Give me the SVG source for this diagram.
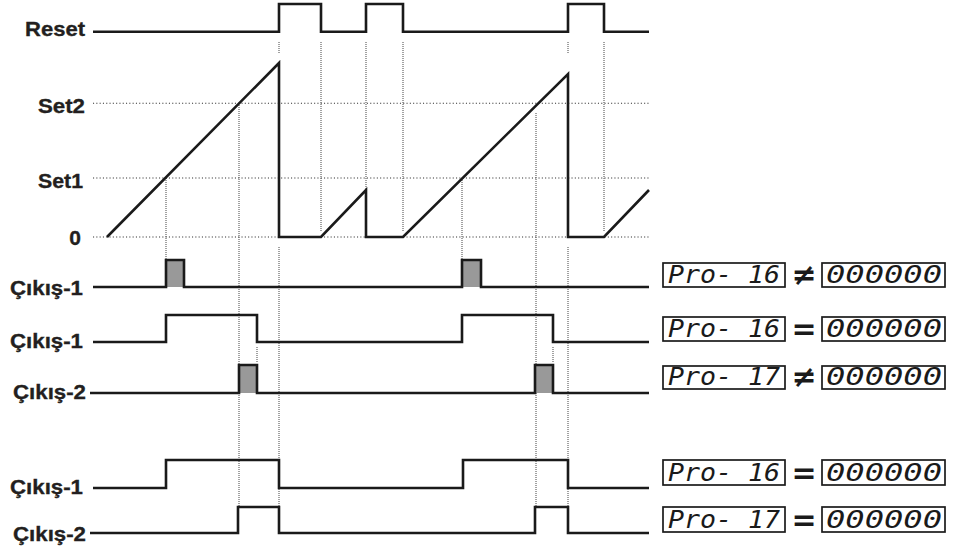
<svg xmlns="http://www.w3.org/2000/svg" width="958" height="553" viewBox="0 0 958 553">
<style>
.bg{fill:#ffffff}
.lbl{font-family:"Liberation Sans",Arial,sans-serif;font-weight:bold;font-size:21px;fill:#231f20;stroke:#231f20;stroke-width:0.35;text-anchor:end}
.sig{fill:none;stroke:#1a1a1a;stroke-width:2.6;stroke-linejoin:miter;stroke-linecap:butt}
.hd{fill:none;stroke:#333;stroke-width:1.1;stroke-dasharray:1.1 2.2}
.vd{fill:none;stroke:#444;stroke-width:1;stroke-dasharray:1 1}
.pulse{fill:#999999;stroke:none}
.box{fill:#ffffff;stroke:#1a1a1a;stroke-width:1.7}
.seg{font-family:"DejaVu Sans Mono","Liberation Mono",monospace;font-style:oblique;font-size:24px;fill:#1a1a1a}
.op{font-family:"DejaVu Sans",sans-serif;font-weight:bold;font-size:30px;fill:#1a1a1a;text-anchor:middle}
</style>
<rect class="bg" x="0" y="0" width="958" height="553"/>

<g id="grid">
<path class="hd" d="M93,103.3 H649 M93,178 H649 M93,237 H649"/>
<path class="vd" d="M166,178 V260 M239,105 V507 M279,42 V53 M279,247 V507 M321,42 V232 M366,42 V190 M403,42 V232 M257,347 V362 M462,178 V260 M536,113 V507 M553,347 V362 M568,42 V53 M568,247 V507 M604,42 V232"/>
</g>

<g id="labels">
<text class="lbl" x="85" y="36" textLength="60" lengthAdjust="spacingAndGlyphs">Reset</text>
<text class="lbl" x="85" y="113" textLength="47" lengthAdjust="spacingAndGlyphs">Set2</text>
<text class="lbl" x="83" y="188" textLength="45" lengthAdjust="spacingAndGlyphs">Set1</text>
<text class="lbl" x="81" y="245">0</text>
<text class="lbl" x="83" y="295" textLength="73" lengthAdjust="spacingAndGlyphs">Çıkış-1</text>
<text class="lbl" x="83" y="348" textLength="73" lengthAdjust="spacingAndGlyphs">Çıkış-1</text>
<text class="lbl" x="86" y="399" textLength="73" lengthAdjust="spacingAndGlyphs">Çıkış-2</text>
<text class="lbl" x="83" y="494" textLength="73" lengthAdjust="spacingAndGlyphs">Çıkış-1</text>
<text class="lbl" x="86" y="541" textLength="73" lengthAdjust="spacingAndGlyphs">Çıkış-2</text>
</g>

<g id="fills">
<rect class="pulse" x="166" y="260" width="18" height="27"/>
<rect class="pulse" x="462" y="260" width="19" height="27"/>
<rect class="pulse" x="239" y="365" width="18" height="28"/>
<rect class="pulse" x="535" y="365" width="18" height="28"/>
</g>

<g id="signals">
<path id="reset" class="sig" d="M93,31.7 H279 V4 H321 V31.7 H366 V4 H403 V31.7 H568 V4 H604 V31.7 H649"/>
<path id="ramp" class="sig" d="M107,237 L279,63 V237 H321 L366,190 V237 H403 L568,74 V237 H604 L649,190"/>
<path id="row1" class="sig" d="M93,287 H166 V260 H184 V287 H462 V260 H481 V287 H649"/>
<path id="row2" class="sig" d="M93,342 H166 V315 H257 V342 H462 V315 H553 V342 H649"/>
<path id="row3" class="sig" d="M90,393 H239 V365 H257 V393 H535 V365 H553 V393 H649"/>
<path id="row4" class="sig" d="M93,488 H166 V460 H279 V488 H463 V460 H568 V488 H649"/>
<path id="row5" class="sig" d="M90,533 H238 V507 H279 V533 H535 V507 H568 V533 H649"/>
</g>

<g id="disp1">
<rect class="box" x="663" y="263" width="122" height="24"/>
<text class="seg" x="668" y="283" textLength="112" lengthAdjust="spacingAndGlyphs">Pro- 16</text>
<text class="op" x="804" y="285">≠</text>
<rect class="box" x="822" y="263" width="123" height="24"/>
<text class="seg" x="826" y="283" textLength="116" lengthAdjust="spacingAndGlyphs">000000</text>
</g>
<g id="disp2">
<rect class="box" x="663" y="317" width="122" height="24"/>
<text class="seg" x="668" y="337" textLength="112" lengthAdjust="spacingAndGlyphs">Pro- 16</text>
<text class="op" x="804" y="339">=</text>
<rect class="box" x="822" y="317" width="123" height="24"/>
<text class="seg" x="826" y="337" textLength="116" lengthAdjust="spacingAndGlyphs">000000</text>
</g>
<g id="disp3">
<rect class="box" x="663" y="366" width="122" height="23"/>
<text class="seg" x="668" y="385" textLength="112" lengthAdjust="spacingAndGlyphs">Pro- 17</text>
<text class="op" x="804" y="387">≠</text>
<rect class="box" x="822" y="366" width="123" height="23"/>
<text class="seg" x="826" y="385" textLength="116" lengthAdjust="spacingAndGlyphs">000000</text>
</g>
<g id="disp4">
<rect class="box" x="663" y="460" width="122" height="25"/>
<text class="seg" x="668" y="481" textLength="112" lengthAdjust="spacingAndGlyphs">Pro- 16</text>
<text class="op" x="804" y="483">=</text>
<rect class="box" x="822" y="460" width="123" height="25"/>
<text class="seg" x="826" y="481" textLength="116" lengthAdjust="spacingAndGlyphs">000000</text>
</g>
<g id="disp5">
<rect class="box" x="663" y="507" width="122" height="25"/>
<text class="seg" x="668" y="528" textLength="112" lengthAdjust="spacingAndGlyphs">Pro- 17</text>
<text class="op" x="804" y="530">=</text>
<rect class="box" x="822" y="507" width="123" height="25"/>
<text class="seg" x="826" y="528" textLength="116" lengthAdjust="spacingAndGlyphs">000000</text>
</g>
</svg>
